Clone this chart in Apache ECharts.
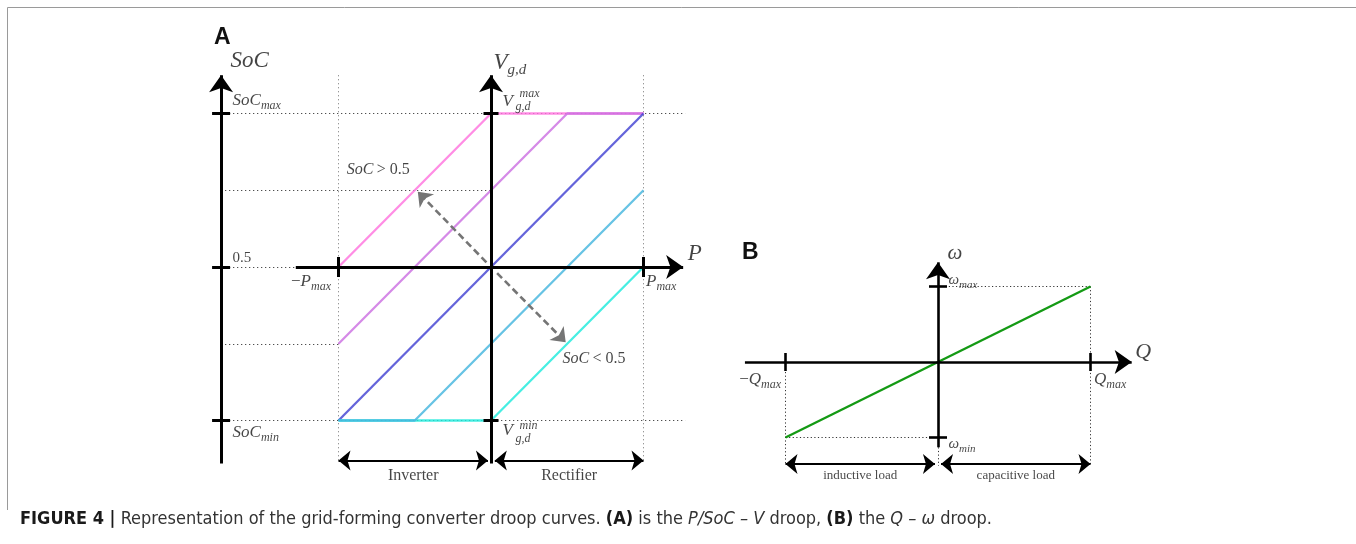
<!DOCTYPE html>
<html>
<head>
<meta charset="utf-8">
<script src="https://cdn.jsdelivr.net/npm/echarts@6/dist/echarts.min.js"></script>
<style>
  html, body { margin: 0; padding: 0; background: #fff; }
  #chart { width: 1356px; height: 544px; }
</style>
</head>
<body>
<div id="chart"></div>
<script>
// ---------------------------------------------------------------------------
// Panel A: P / SoC – V droop. P is in units of Pmax; the vertical scale is
// normalised so that SoC_min / V_min = -1, SoC = 0.5 -> 0, SoC_max / V_max = 1.
// ---------------------------------------------------------------------------
const droopNames = ['SoC >> 0.5', 'SoC > 0.5', 'SoC = 0.5', 'SoC << 0.5', 'SoC < 0.5'];
const droopP = [
  [-1, 0, 1],
  [-1, 0.5, 1],
  [-1, 1],
  [-1, 0, 1],
  [-1, -0.5, 1]
];
const droopV = [
  [0, 1, 1],
  [-0.5, 1, 1],
  [-1, 1],
  [-1, -1, 0],
  [-1, -1, 0.5]
];
// dashed arrows showing how the curve shifts with SoC
const shiftFrom = [[-0.03, 0.03], [0.04, -0.04]];
const shiftTo = [[-0.48, 0.49], [0.49, -0.49]];
const shiftText = ['{i|SoC} {r|> 0.5}', '{i|SoC} {r|< 0.5}'];
const shiftTextAt = [[-0.95, 0.63], [0.465, -0.6]];

const socTicks = [1, 0, -1];
const socTickText = ['{i|SoC}{d|max}', '{r|0.5}', '{i|SoC}{d|min}'];
const vTicks = [1, -1];
const vTickSup = ['max', 'min'];
const pTicks = [-1, 1];
const pTickText = ['{r|−}{i|P}{d|max}', '{i|P}{d|max}'];
const modeText = ['Inverter', 'Rectifier'];
const modeSpan = [[-1, -0.02], [0.025, 1]];

// ---------------------------------------------------------------------------
// Panel B: Q – ω droop, Q in units of Qmax, ω normalised to ±1 at ω_min / ω_max
// ---------------------------------------------------------------------------
const droopQ = [-1, 1];
const droopW = [-1, 1];
const qTicks = [-1, 1];
const qTickText = ['{r|−}{i|Q}{d|max}', '{i|Q}{d|max}'];
const wTicks = [1, -1];
const wTickText = ['{i|ω}{d|max}', '{i|ω}{d|min}'];
const loadText = ['inductive load', 'capacitive load'];
const loadSpan = [[-1, -0.02], [0.02, 1]];

// ---------------------------------------------------------------------------
// layout & styles
// ---------------------------------------------------------------------------
const SERIF = "'Liberation Serif', 'DejaVu Serif', serif";
const SANS = "'Liberation Sans', Arial, Helvetica, sans-serif";
const NARROW = "'Liberation Sans Narrow', 'DejaVu Sans Condensed', 'Liberation Sans', sans-serif";
const INK = '#151515';
// order: pink, orchid, blue, cyan, light blue (light blue drawn last)
const droopColors = ['#ff74de', '#cc70e2', '#4242d2', '#1eeadc', '#45b6de'];

// pixel origin and px-per-unit of each panel
const GA = { ox: 491, oy: 267, sx: 152.5, sy: 153.5, xr: [-2, 1.6], yr: [-1.6, 1.6] };
const GB = { ox: 938, oy: 362, sx: 152.5, sy: 75.5, xr: [-1.6, 1.6], yr: [-1.8, 1.8] };

function gridOf(g) {
  return {
    left: g.ox + g.xr[0] * g.sx,
    top: g.oy - g.yr[1] * g.sy,
    width: (g.xr[1] - g.xr[0]) * g.sx,
    height: (g.yr[1] - g.yr[0]) * g.sy,
    containLabel: false,
    outerBoundsMode: 'none'
  };
}
const px = (g, n, axis) => n / (axis === 'x' ? g.sx : g.sy);

// axis extents (arrow tips) in data units
const A_SOC_X = -1.77;
const A_TOP = 1.25, A_BOT = -1.28, A_LEFT = -1.28, A_RIGHT = 1.26;
const A_ROW = -1.26;              // level of the Inverter / Rectifier arrows
const B_TOP = 1.32, B_BOT = -1.13, B_LEFT = -1.266, B_RIGHT = 1.27;
const B_ROW = -1.35;

const AX_HEAD = [18, 17];         // arrow symbol size (ECharts arrow: width = 2/3 of w)
const ROW_HEAD = [15, 12];
const SHIFT_HEAD = [15, 13];

function seg(p, q, s0, s1) {
  return [{ coord: p, symbol: s0 || 'none' }, { coord: q, symbol: s1 || 'none' }];
}
function segSeries(gi, lineStyle, segs, symbolSize, z) {
  return {
    type: 'line', xAxisIndex: gi, yAxisIndex: gi, data: [], silent: true, animation: false,
    markLine: {
      silent: true, animation: false, z: z, symbol: ['none', 'none'], symbolSize: symbolSize || 10,
      label: { show: false }, emphasis: { disabled: true },
      lineStyle: Object.assign({ opacity: 1 }, lineStyle), itemStyle: { color: lineStyle.color },
      data: segs
    }
  };
}

function richSet(base, sub) {
  const sp = Math.round(base * 0.6);
  return {
    i: { fontFamily: SERIF, fontStyle: 'italic', fontSize: base, lineHeight: base + 3, color: INK },
    r: { fontFamily: SERIF, fontSize: base, lineHeight: base + 3, color: INK },
    d: { fontFamily: SERIF, fontStyle: 'italic', fontSize: sub, lineHeight: sub + 2, padding: [sp, 0, 0, 0], color: INK }
  };
}
function note(at, text, pos, offset, sizes) {
  return {
    value: at,
    label: {
      show: true, position: pos, distance: 0, offset: offset || [0, 0],
      formatter: text, rich: richSet(sizes[0], sizes[1])
    }
  };
}
function noteSeries(gi, items) {
  return {
    type: 'scatter', xAxisIndex: gi, yAxisIndex: gi, symbolSize: 1, silent: true, animation: false,
    clip: false, z: 10, itemStyle: { color: 'rgba(0,0,0,0)' }, data: items
  };
}

// ---------------------------------------------------------------------------
// series — panel A
// ---------------------------------------------------------------------------
const series = [];
const dotStyle = { color: '#444', width: 1, type: [1.2, 2.8] };
const dotLight = { color: '#8a8a8a', width: 1, type: [1.2, 2.8] };
const axisStyle = { color: '#000', width: 3, type: 'solid' };
const rowStyle = { color: '#000', width: 2.2, type: 'solid' };

const aRight = A_RIGHT + px(GA, 2, 'x');
series.push(segSeries(0, dotStyle, [
  seg([A_SOC_X, 1], [aRight, 1]),
  seg([A_SOC_X, 0.5], [0, 0.5]),
  seg([A_SOC_X, 0], [-1, 0]),
  seg([A_SOC_X, -0.5], [-1, -0.5]),
  seg([A_SOC_X, -1], [aRight, -1])
], 0, 1));
series.push(segSeries(0, dotLight, [
  seg([-1, A_TOP], [-1, A_ROW - px(GA, 1, 'y')]),
  seg([1, A_TOP], [1, A_ROW - px(GA, 1, 'y')])
], 0, 1));

droopP.forEach((xs, k) => {
  series.push({
    type: 'line', name: droopNames[k], xAxisIndex: 0, yAxisIndex: 0,
    data: xs.map((x, j) => [x, droopV[k][j]]),
    showSymbol: false, silent: true, animation: false, z: 2,
    lineStyle: { color: droopColors[k], width: 2.3, opacity: 0.82 }
  });
});

// axes with arrows (the arrow tip lands on the end coordinate)
series.push(segSeries(0, axisStyle, [
  seg([A_SOC_X, A_BOT], [A_SOC_X, A_TOP], 'none', 'arrow'),
  seg([0, A_BOT], [0, A_TOP], 'none', 'arrow'),
  seg([A_LEFT, 0], [A_RIGHT, 0], 'none', 'arrow')
], AX_HEAD, 6));

// ticks
const tA_h = px(GA, 9, 'x'), tA_v = px(GA, 10, 'y'), tV_h = px(GA, 7.5, 'x');
series.push(segSeries(0, axisStyle, [
  ...socTicks.map(v => seg([A_SOC_X - tA_h, v], [A_SOC_X + tA_h, v])),
  ...vTicks.map(v => seg([-tV_h, v], [tV_h, v])),
  ...pTicks.map(p => seg([p, -tA_v], [p, tA_v]))
], 0, 6));

// Inverter / Rectifier range arrows
series.push(segSeries(0, rowStyle,
  modeSpan.map(s => seg([s[0], A_ROW], [s[1], A_ROW], 'arrow', 'arrow')),
  ROW_HEAD, 6));

// SoC shift arrows
series.push(segSeries(0, { color: '#757575', width: 2.6, type: [7, 4] },
  shiftFrom.map((f, k) => seg(f, shiftTo[k], 'none', 'arrow')), SHIFT_HEAD, 6));

// text — panel A
const aNotes = [
  note([A_SOC_X, A_TOP], '{i|SoC}', 'right', [9, -14], [23, 15]),
  note([0, A_TOP], '{i|V}{d|g,d}', 'right', [2, -12], [23, 15]),
  note([A_RIGHT, 0], '{i|P}', 'right', [4, -13], [23, 15]),
  ...socTicks.map((v, k) => note([A_SOC_X, v], socTickText[k], 'right',
    [11, [-13, -9, 12][k]], k === 1 ? [15, 11] : [17, 12])),
  ...vTicks.map((v, k) => note([0, v], '{i|V}', 'right', [11, [-12, 10][k]], [17, 12])),
  ...vTicks.map((v, k) => note([0, v], '{i|' + vTickSup[k] + '}', 'right', [28, [-20, 5][k]], [12, 12])),
  ...vTicks.map((v, k) => note([0, v], '{i|g,d}', 'right', [24, [-7, 18][k]], [12, 12])),
  ...pTicks.map((p, k) => note([p, 0], pTickText[k], k ? 'right' : 'left',
    [k ? 2 : -7, 15], [17, 12])),
  ...shiftText.map((t, k) => note(shiftTextAt[k], t, 'right', [0, 0], [16, 12])),
  ...modeText.map((t, k) => note([(modeSpan[k][0] + modeSpan[k][1]) / 2, A_ROW], '{r|' + t + '}',
    'inside', [0, 15], [16, 12]))
];
series.push(noteSeries(0, aNotes));

// ---------------------------------------------------------------------------
// series — panel B
// ---------------------------------------------------------------------------
const bDot = { color: '#333', width: 1, type: [1.2, 2.4] };
series.push(segSeries(1, bDot, [
  seg([0, 1], [1, 1]),
  seg([1, 1], [1, B_ROW]),
  seg([-1, -1], [-px(GB, 6, 'x'), -1]),
  seg([-1, -px(GB, 10, 'y')], [-1, B_ROW]),
  seg([0, B_BOT], [0, B_ROW - px(GB, 2, 'y')])
], 0, 1));

series.push({
  type: 'line', name: 'Q–ω droop', xAxisIndex: 1, yAxisIndex: 1,
  data: droopQ.map((q, j) => [q, droopW[j]]),
  showSymbol: false, silent: true, animation: false, z: 2,
  lineStyle: { color: '#149a14', width: 2.4 }
});

series.push(segSeries(1, { color: '#000', width: 2.6, type: 'solid' }, [
  seg([0, B_BOT], [0, B_TOP], 'none', 'arrow'),
  seg([B_LEFT, 0], [B_RIGHT, 0], 'none', 'arrow')
], AX_HEAD, 6));

const tB_v = px(GB, 9, 'y'), tB_h = px(GB, 9, 'x');
series.push(segSeries(1, { color: '#000', width: 2.6, type: 'solid' }, [
  ...qTicks.map(q => seg([q, -tB_v], [q, tB_v])),
  ...wTicks.map(w => seg([-tB_h, w], [tB_h, w]))
], 0, 6));

series.push(segSeries(1, rowStyle,
  loadSpan.map(s => seg([s[0], B_ROW], [s[1], B_ROW], 'arrow', 'arrow')),
  ROW_HEAD, 6));

const bNotes = [
  note([0, B_TOP], '{i|ω}', 'right', [9, -9], [21, 12]),
  note([B_RIGHT, 0], '{i|Q}', 'right', [3, -10], [22, 12]),
  ...wTicks.map((w, k) => note([0, w], wTickText[k], 'right', [10, [-6, 7][k]], [15, 11])),
  ...qTicks.map((q, k) => note([q, 0], qTickText[k], k ? 'right' : 'left', [k ? 3 : -4, 18], [17, 12])),
  ...loadText.map((t, k) => note([(loadSpan[k][0] + loadSpan[k][1]) / 2, B_ROW], '{r|' + t + '}',
    'inside', [0, 12], [13, 10]))
];
series.push(noteSeries(1, bNotes));

// ---------------------------------------------------------------------------
const chart = echarts.init(document.getElementById('chart'), null, { renderer: 'canvas' });
chart.setOption({
  animation: false,
  backgroundColor: '#fff',
  grid: [gridOf(GA), gridOf(GB)],
  xAxis: [GA, GB].map((g, i) => ({ gridIndex: i, type: 'value', min: g.xr[0], max: g.xr[1], show: false })),
  yAxis: [GA, GB].map((g, i) => ({ gridIndex: i, type: 'value', min: g.yr[0], max: g.yr[1], show: false })),
  title: [
    { text: 'A', left: 214, top: 26, padding: 0,
      textStyle: { fontFamily: SANS, fontWeight: 'bold', fontSize: 23, color: '#111' } },
    { text: 'B', left: 742, top: 241, padding: 0,
      textStyle: { fontFamily: SANS, fontWeight: 'bold', fontSize: 23, color: '#111' } },
    {
      text: '{b|FIGURE 4 |} Representation of the grid-forming converter droop curves. {b|(A)} is the {i|P/SoC – V} droop, {b|(B)} the {i|Q – ω} droop.',
      left: 20, top: 510, padding: 0,
      textStyle: {
        fontFamily: NARROW, fontSize: 18, fontWeight: 'normal', color: '#333',
        rich: {
          b: { fontFamily: NARROW, fontSize: 18, fontWeight: 'bold', color: '#1a1a1a' },
          i: { fontFamily: NARROW, fontSize: 18, fontStyle: 'italic', color: '#333' }
        }
      }
    }
  ],
  graphic: [
    { type: 'line', shape: { x1: 7.5, y1: 7.5, x2: 1356, y2: 7.5 }, style: { stroke: '#9a9a9a', lineWidth: 1 }, silent: true },
    { type: 'line', shape: { x1: 7.5, y1: 7.5, x2: 7.5, y2: 510 }, style: { stroke: '#9a9a9a', lineWidth: 1 }, silent: true }
  ],
  series: series
});
</script>
</body>
</html>
